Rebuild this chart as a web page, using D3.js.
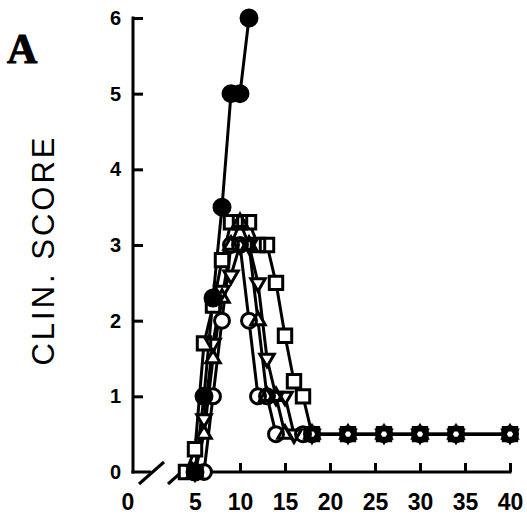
<!DOCTYPE html>
<html>
<head>
<meta charset="utf-8">
<script src="https://cdn.jsdelivr.net/npm/d3@7"></script>
<style>
  html, body { margin: 0; padding: 0; background: #fff; }
  svg { display: block; }
</style>
</head>
<body>
<svg id="chart" width="527" height="519"></svg>
<script>
// Clinical score per day after immunisation, one array pair per group.
const filledDays   = [5, 6, 7, 8, 9, 10, 11];
const filledScores = [0, 1.0, 2.3, 3.5, 5, 5, 6];

const circleDays   = [6, 7, 8, 9, 10, 11, 12, 13, 14, 17, 18, 22, 26, 30, 34, 40];
const circleScores = [0, 1.0, 2.0, 3.0, 3.0, 2.0, 1.0, 1.0, 0.5, 0.5, 0.5, 0.5, 0.5, 0.5, 0.5, 0.5];

const squareDays   = [4, 5, 6, 7, 8, 9, 10, 11, 12, 13, 14, 15, 16, 17, 18, 22, 26, 30, 34, 40];
const squareScores = [0, 0.3, 1.7, 2.2, 2.8, 3.3, 3.3, 3.3, 3.0, 3.0, 2.5, 1.8, 1.2, 1.0, 0.5, 0.5, 0.5, 0.5, 0.5, 0.5];

const triUpDays    = [5, 6, 7, 8, 9, 10, 11, 12, 13, 14, 15, 18, 22, 26, 30, 34, 40];
const triUpScores  = [0, 0.5, 1.5, 2.3, 3.0, 3.3, 3.0, 2.0, 1.0, 1.0, 0.5, 0.5, 0.5, 0.5, 0.5, 0.5, 0.5];

const triDownDays   = [5, 6, 7, 8, 9, 10, 11, 12, 13, 14, 15, 16, 18, 22, 26, 30, 34, 40];
const triDownScores = [0, 0.7, 1.7, 2.4, 2.6, 3.0, 3.0, 2.5, 1.5, 1.0, 1.0, 0.5, 0.5, 0.5, 0.5, 0.5, 0.5, 0.5];

// Axis ticks
const xTickValues = [5, 10, 15, 20, 25, 30, 35, 40];
const xOriginLabel = "0";
const yTickValues = [0, 1, 2, 3, 4, 5, 6];
const yTitle = "CLIN. SCORE";
const panelLabel = "A";

const svg = d3.select("#chart");

const x = d3.scaleLinear().domain([5, 40]).range([195, 510]);
const y = d3.scaleLinear().domain([0, 6]).range([472, 18]);
const yAxisX = 133;

const zip = (ds, vs) => ds.map((d, i) => ({ day: d, score: vs[i] }));

const series = [
  { name: "square",  data: zip(squareDays, squareScores),   symbol: d3.symbolSquare,   size: 180, rot: 0,   filled: false },
  { name: "triUp",   data: zip(triUpDays, triUpScores),     symbol: d3.symbolTriangle, size: 90,  rot: 0,   filled: false },
  { name: "triDown", data: zip(triDownDays, triDownScores), symbol: d3.symbolTriangle, size: 90,  rot: 180, filled: false },
  { name: "circle",  data: zip(circleDays, circleScores),   symbol: d3.symbolCircle,   size: 175, rot: 0,   filled: false },
  { name: "filled",  data: zip(filledDays, filledScores),   symbol: d3.symbolCircle,   size: 200, rot: 0,   filled: true }
];

const ink = "#000";
const lw = 3;
const numFont = "Liberation Sans, Arial, sans-serif";

// Y axis, ticks pointing inward
const yAxis = d3.axisLeft(y).tickValues(yTickValues).tickSizeInner(-10).tickSizeOuter(-10).tickPadding(12).tickFormat(d3.format("d"));
const gy = svg.append("g").attr("transform", `translate(${yAxisX},0)`).call(yAxis);
gy.select(".domain").remove();
gy.selectAll(".tick line").attr("stroke", ink).attr("stroke-width", lw).filter(d => d === 0).remove();
gy.selectAll(".tick text")
  .attr("font-family", numFont)
  .attr("font-weight", "bold").attr("font-size", 20).attr("fill", ink);
svg.append("line")
  .attr("x1", yAxisX).attr("x2", yAxisX).attr("y1", y(6) - 1.5).attr("y2", y(0) + 1.5)
  .attr("stroke", ink).attr("stroke-width", lw);

// X axis, broken between origin and day 5
const xAxis = d3.axisBottom(x).tickValues(xTickValues).tickSizeInner(-9).tickSizeOuter(0).tickPadding(22).tickFormat(d3.format("d"));
const gx = svg.append("g").attr("transform", `translate(0,${y(0)})`).call(xAxis);
gx.select(".domain").remove();
gx.selectAll(".tick line").attr("stroke", ink).attr("stroke-width", lw);
gx.selectAll(".tick text")
  .attr("font-family", numFont)
  .attr("font-weight", "bold").attr("font-size", 23).attr("fill", ink);
svg.append("line")
  .attr("x1", x(4) - 4).attr("x2", x(40) + 1.5).attr("y1", y(0)).attr("y2", y(0))
  .attr("stroke", ink).attr("stroke-width", lw);
svg.append("line")
  .attr("x1", yAxisX - 1.5).attr("x2", yAxisX + 18).attr("y1", y(0)).attr("y2", y(0))
  .attr("stroke", ink).attr("stroke-width", lw);
// break marks
[152, 181].forEach(cx => {
  svg.append("line")
    .attr("x1", cx - 13).attr("y1", y(0) + 12).attr("x2", cx + 12).attr("y2", y(0) - 10)
    .attr("stroke", ink).attr("stroke-width", lw);
});
svg.append("text")
  .attr("x", 128).attr("y", y(0) + 22).attr("dy", "0.71em")
  .attr("text-anchor", "middle")
  .attr("font-family", numFont)
  .attr("font-weight", "bold").attr("font-size", 23).attr("fill", ink)
  .text(xOriginLabel);

// Y title
svg.append("text")
  .attr("transform", "translate(54,250) rotate(-90)")
  .attr("text-anchor", "middle")
  .attr("font-family", "Liberation Sans, Arial, sans-serif")
  .attr("font-size", 31).attr("letter-spacing", 3).attr("fill", ink)
  .text(yTitle);

// Panel label
svg.append("text")
  .attr("x", 7).attr("y", 63)
  .attr("font-family", "Liberation Serif, Times New Roman, serif")
  .attr("font-weight", "bold").attr("font-size", 42).attr("fill", ink)
  .attr("stroke", ink).attr("stroke-width", 1)
  .text(panelLabel);

// Lines
const line = d3.line().x(d => x(d.day)).y(d => y(d.score));
series.forEach(s => {
  svg.append("path").datum(s.data)
    .attr("d", line).attr("fill", "none")
    .attr("stroke", ink).attr("stroke-width", lw).attr("stroke-linejoin", "round");
});

// Markers: fills first, then outlines on top
const markerPath = s => d3.symbol().type(s.symbol).size(s.size)();
const place = s => d => `translate(${x(d.day)},${y(d.score)}) rotate(${s.rot})`;

series.filter(s => !s.filled).concat(series.filter(s => s.filled)).forEach(s => {
  svg.append("g").selectAll("path").data(s.data).join("path")
    .attr("d", markerPath(s)).attr("transform", place(s))
    .attr("fill", s.filled ? ink : "#fff").attr("stroke", "none");
});
series.forEach(s => {
  svg.append("g").selectAll("path").data(s.data).join("path")
    .attr("d", markerPath(s)).attr("transform", place(s))
    .attr("fill", "none").attr("stroke", ink).attr("stroke-width", lw);
});
</script>
</body>
</html>
